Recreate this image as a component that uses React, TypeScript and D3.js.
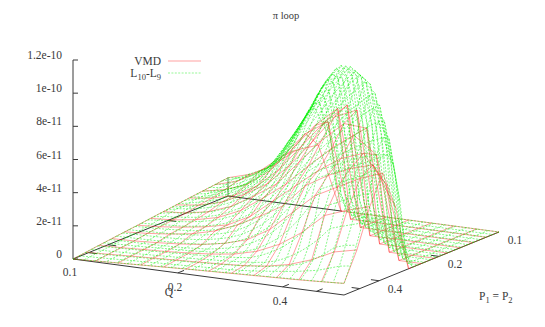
import React from "react";
import * as d3 from "d3";

const titleText = "π loop";
const zTicks = [0, 20, 40, 60, 80, 100, 120];
const zLabels = ["0", "2e-11", "4e-11", "6e-11", "8e-11", "1e-10", "1.2e-10"];
const qTickValues = [0.2, 0.4, 0.5];
const pTickValues = [0.2, 0.4, 0.5];

// heights in units of 1e-12; each row = one P line (P 0.1 -> 0.6), each column = one Q line (Q 0.1 -> 0.6), log spaced
const greenRows: number[][] = [
  [11,12,15,18,22,27,36,50,60,48,14],
  [10.6,12.5,14.5,17,21,26,33,46,60,66,46,12],
  [10.1,11,14,17,21,25.5,31,41,55,66,72,50,14],
  [9.7,10.5,12.5,15.5,19,24,31,39,50,62,75,78,54,15],
  [9.2,10,11.5,14,17,21.5,27,35,45,56,68,82,85,58,17],
  [8.8,10,12,14.5,17,21,27,34,43,53,64,76,88,90,62,18],
  [8.4,9.6,11.5,13.6,16.5,20,24,31,40,50,60,70,84,94,92,65,19],
  [8,9.5,11.3,13.2,15.3,18.5,22.5,27,35,45,56,67,79,91,100,95,68,20],
  [7.5,8.8,10.3,12,14,17,21,25,30,41,52,62,73,86,96,104,99,71,21],
  [7,8.2,9.5,11,12.8,15.2,18.7,22.6,27.3,33,45,57,68,78,88,98,106,101,72,22],
  [6.6,8.4,9.2,10.2,11.8,13.9,16.6,20.3,24.8,30.3,37,49,60,71,81,91,100,108,103,74,22],
  [6.2,7.6,8.2,9.1,10.3,11.9,14.3,17.4,21.4,26.5,32.6,40,52,62,73,82,92,100,108,103,74,22],
  [5.7,6.8,7.2,8,8.9,10.2,12,14.7,18,22.5,28,34.8,43,54,64,74,83,92,101,108,103,74,22],
  [5.3,6.1,6.5,6.9,7.7,8.8,10.2,12.2,15,18.7,23.6,29.7,37,46,56,66,75,83,92,99,106,100,72,20],
  [4.8,5.3,5.7,6.1,6.5,7.4,8.5,10,12.1,15.1,19,24.2,30.6,38.3,48,57,65,73,80,88,94,100,95,64,16],
  [4.4,4.8,5,5.3,5.8,6.2,7.1,8.3,9.9,12.2,15.3,19.4,24.9,31.8,40,50,58,65,72,78,84,90,95,88,56,10],
  [4,4.2,4.5,4.7,5,5.5,6,6.9,8.2,9.9,12.3,15.8,20.2,26,33.4,42,53,59,65,70,75,80,85,89,80,43],
  [3.5,3.7,3.8,4,4.2,4.5,5,5.6,6.6,7.9,9.7,12.3,15.9,20.5,26.7,34.4,43.7,55,60,64,68,72,76,79,82,66],
  [3.1,3.3,3.4,3.5,3.7,3.9,4.2,4.7,5.2,6.3,7.6,9.5,12.1,15.8,20.6,27,34.9,44.4,56,60,63,66,69,71,73,74],
  [2.6,2.7,2.8,2.9,3,3.2,3.4,3.7,4.2,4.7,5.8,7.1,9,11.7,15.4,20.2,26.6,34.6,44.3,56,59,62,65,68,71,74],
  [2.2,2.4,2.6,2.8,3.1,3.4,3.7,4,4.3,4.8,5.2,5.8,6.6,8.2,10.7,14.2,18.6,24.6,32,41,52,55,58,61,64,68],
  [1.8,2,2.2,2.4,2.7,3,3.3,3.6,3.9,4.2,4.6,5,5.5,6.1,6.9,9,12,15.7,20.8,27,34.7,44,47,50,53,55],
  [1.3,1.5,1.7,2,2.2,2.5,2.8,3.1,3.4,3.7,4.1,4.5,4.9,5.3,5.8,6.4,7.4,9,11.8,15.6,20.3,26,33,35,37,39],
  [0.9,1.1,1.3,1.6,1.9,2.2,2.5,2.8,3.1,3.4,3.7,4,4.4,4.8,5.2,5.8,6.5,7.3,8.3,9.6,11.5,14.7,18.9,24,26,27],
  [0.4,0.7,0.9,1.2,1.5,1.8,2,2.3,2.6,2.8,3.1,3.4,3.7,3.9,4.2,4.6,5.2,5.9,6.7,7.5,8.4,9.5,10.8,12.8,15,16],
  [0,0.3,0.6,0.9,1.2,1.5,1.8,2.1,2.4,2.7,3,3.2,3.5,3.8,4,4.3,4.5,4.8,5,5.3,5.5,5.8,6,6.3,6.6,7],
];

const redRows: number[][] = [
  [11,15,22,33,38],
  [10,14,22,33,48,57],
  [9.2,12,17,27,42,58,70],
  [8.3,10,13.5,21,33,49,65,77],
  [7.3,9,12.5,19,27,40,56,73,79],
  [6.4,7.4,10,15,23,32,47,62,74,73],
  [5.5,6.4,8.3,11.5,17.5,27,37,50,62,72,62],
  [4.5,5.4,7,9,12,19,30,41,52,61,66,49],
  [3.7,4.6,6,8,11.5,17,24,32,46,54,60,64,40],
  [2.8,3.2,4,5,6.5,9,13,21,33,45,52,59,64],
  [1.9,2.3,3,3.6,4.5,5.7,7.5,11,17,26,38,43,47],
  [0.9,1.5,2.2,2.8,3.4,4,4.7,5.5,7,9.8,14.5,21,24],
  [0,0.6,1.2,1.8,2.4,3,3.5,4,4.5,5,5.5,6.2,7],
];

const W = 545;
const H = 327;
const ink = "#3a3a3a";
const serif = "'Liberation Serif', 'DejaVu Serif', serif";

// axis scales of the 3D box: Q and P are logarithmic, z linear
const qScale = d3.scaleLog().domain([0.1, 0.6]).range([0, 1]);
const pScale = d3.scaleLog().domain([0.1, 0.6]).range([0, 1]);
const zScale = d3.scaleLinear().domain([0, 120]).range([0, 199]);

// oblique projection from the picture's four base corners
const project = (u: number, w: number, z: number): [number, number] => [
  228 + 271 * u - 155 * w,
  196 + 36 * u + 63 * w - zScale(z),
];

const lineGen = d3.line<[number, number]>().x((d) => d[0]).y((d) => d[1]);

function meshPaths(rows: number[][]): string[] {
  const n = rows.length;
  const cell = (i: number, j: number) => rows[j][i] ?? 0;
  const paths: string[] = [];
  d3.range(n).forEach((j) => {
    paths.push(lineGen(d3.range(n).map((i) => project(i / (n - 1), j / (n - 1), cell(i, j)))) as string);
  });
  d3.range(n).forEach((i) => {
    paths.push(lineGen(d3.range(n).map((j) => project(i / (n - 1), j / (n - 1), cell(i, j)))) as string);
  });
  return paths;
}

const Mesh = ({ rows, color, dash, width, opacity }: { rows: number[][]; color: string; dash?: string; width: number; opacity: number }) => (
  <g fill="none" stroke={color} strokeWidth={width} strokeDasharray={dash} strokeOpacity={opacity}>
    {meshPaths(rows).map((d, k) => (
      <path key={k} d={d} />
    ))}
  </g>
);

export default function App() {
  const c00 = project(0, 0, 0);
  const c10 = project(1, 0, 0);
  const c11 = project(1, 1, 0);
  const c01 = project(0, 1, 0);
  const backStop = project(0.42, 0, 0);
  const base = lineGen([c10, c11, c01, c00, backStop]) as string;
  const zx = c01[0];
  const zy = (v: number) => c01[1] - zScale(v);
  return (
    <svg width={W} height={H} style={{ position: "absolute", left: 0, top: 0, background: "#fff" }} fontFamily={serif} fontSize={11.5} fill={ink}>
      <text x={286} y={19} textAnchor="middle" fontSize={10.5}>{titleText}</text>

      <path d={base} fill="none" stroke={ink} strokeWidth={1} />
      <line x1={zx} y1={zy(0)} x2={zx} y2={zy(120)} stroke={ink} strokeWidth={1} />
      <line x1={c00[0]} y1={c00[1]} x2={c00[0]} y2={c00[1] - zScale(11)} stroke="#5a8a5a" strokeWidth={1} />
      {zTicks.map((t, k) => (
        <g key={t}>
          <line x1={zx} x2={zx + 5} y1={zy(t)} y2={zy(t)} stroke={ink} strokeWidth={1} />
          <text x={62} y={zy(t) - 1} textAnchor="end">{zLabels[k]}</text>
        </g>
      ))}
      {pTickValues.map((p) => {
        const w = pScale(p);
        const a = project(1, w, 0);
        const b = project(0.97, w, 0);
        const c = project(0, w, 0);
        const e = project(0.03, w, 0);
        return (
          <g key={p} stroke={ink} strokeWidth={1}>
            <line x1={a[0]} y1={a[1]} x2={b[0]} y2={b[1]} />
            <line x1={c[0]} y1={c[1]} x2={e[0]} y2={e[1]} />
          </g>
        );
      })}
      {qTickValues.map((q) => {
        const u = qScale(q);
        const a = project(u, 1, 0);
        const b = project(u, 0.96, 0);
        return <line key={q} x1={a[0]} y1={a[1]} x2={b[0]} y2={b[1]} stroke={ink} strokeWidth={1} />;
      })}

      <Mesh rows={redRows} color="#ff2020" width={0.65} opacity={0.65} />
      <Mesh rows={greenRows} color="#00ee00" dash="2 1.4" width={0.6} opacity={0.8} />

      <text x={161} y={65} textAnchor="end">VMD</text>
      <line x1={168} x2={201} y1={61} y2={61} stroke="#ff2020" strokeOpacity={0.6} strokeWidth={0.7} />
      <text x={161} y={77} textAnchor="end">L<tspan fontSize={8.5} dy={3}>10</tspan><tspan dy={-3}>-L</tspan><tspan fontSize={8.5} dy={3}>9</tspan></text>
      <line x1={168} x2={201} y1={73} y2={73} stroke="#00ee00" strokeOpacity={0.6} strokeWidth={0.7} strokeDasharray="2 1.4" />

      <text x={70} y={276} textAnchor="middle">0.1</text>
      <text x={175} y={291} textAnchor="middle">0.2</text>
      <text x={280} y={305} textAnchor="middle">0.4</text>
      <text x={169} y={296} textAnchor="middle">Q</text>
      <text x={515} y={244} textAnchor="middle">0.1</text>
      <text x={455} y={268} textAnchor="middle">0.2</text>
      <text x={395} y={293} textAnchor="middle">0.4</text>
      <text x={479} y={300}>P<tspan fontSize={8.5} dy={3}>1</tspan><tspan dy={-3}> = P</tspan><tspan fontSize={8.5} dy={3}>2</tspan></text>
    </svg>
  );
}
